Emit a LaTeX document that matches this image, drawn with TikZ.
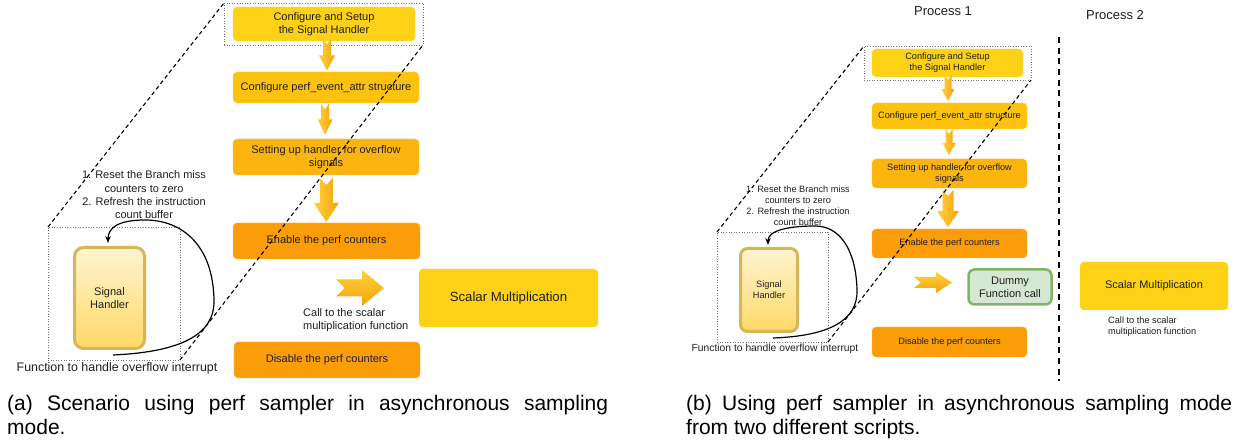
\documentclass[tikz,border=0pt]{standalone}
\usepackage{fontspec}
\setmainfont{Liberation Sans}
\usetikzlibrary{arrows.meta,calc}
\definecolor{cYa}{HTML}{FCD116}
\definecolor{cYb}{HTML}{FDC20E}
\definecolor{cYc}{HTML}{FCB50E}
\definecolor{cOr}{HTML}{FA9D08}
\definecolor{arrL}{HTML}{FFD23F}
\definecolor{arrD}{HTML}{F6A308}
\definecolor{shTop}{HTML}{FFF4D2}
\definecolor{shBot}{HTML}{FFD966}
\definecolor{shBd}{HTML}{D6B656}
\definecolor{dGr}{HTML}{D5E8D4}
\definecolor{dGrB}{HTML}{82B366}
\definecolor{txt}{HTML}{1F1F1F}
\newcommand\fsA{\fontsize{11}{13.3}\selectfont}
\newcommand\fsAL{\fontsize{12.4}{14}\selectfont}
\newcommand\fsAS{\fontsize{13.2}{15}\selectfont}
\newcommand\fsB{\fontsize{9.2}{11}\selectfont}
\newcommand\fsBL{\fontsize{10.3}{12}\selectfont}
\newcommand\fsBM{\fontsize{11}{13}\selectfont}
\newcommand\fsP{\fontsize{13}{15}\selectfont}
\newcommand\fsCap{\fontsize{21}{24.5}\selectfont}
\tikzset{
  box/.style={rounded corners=4pt, inner sep=1pt, outer sep=0pt, align=center, text=txt},
  dotbox/.style={draw=black!55, dotted, line width=0.6pt, inner sep=0pt, outer sep=0pt},
  diag/.style={dash pattern=on 4pt off 3pt, line width=1.1pt, black},
  curvearr/.style={line width=1.2pt, black, -{Stealth[length=7pt,width=5.5pt]}},
  lbl/.style={align=center, text=txt, inner sep=0pt},
  lbll/.style={align=left, text=txt, inner sep=0pt},
  sepline/.style={line width=2.3pt, dash pattern=on 6pt off 4.7pt, black},
  handler/.style={rounded corners=9pt, top color=shTop, bottom color=shBot, draw=shBd, line width=3pt, align=center, text=txt, inner sep=0pt},
  dummy/.style={rounded corners=6pt, fill=dGr, draw=dGrB, line width=2.5pt, align=center, text=txt, inner sep=0pt},
  pics/darrow/.style args={#1/#2/#3/#4/#5}{code={%
    \shade[left color=arrL, right color=arrD] (-#2/2,-#1/2) -- (0,-#1/2+#5) -- (#2/2,-#1/2) -- (#2/2,#1/2-#4) -- (#3/2,#1/2-#4) -- (0,#1/2) -- (-#3/2,#1/2-#4) -- (-#2/2,#1/2-#4) -- cycle;
  }},
  pics/rarrow/.style args={#1/#2/#3/#4/#5}{code={%
    \shade[top color=arrL, bottom color=arrD] (-#1/2,-#2/2) -- (-#1/2+#5,0) -- (-#1/2,#2/2) -- (#1/2-#4,#2/2) -- (#1/2-#4,#3/2) -- (#1/2,0) -- (#1/2-#4,-#3/2) -- (#1/2-#4,-#2/2) -- cycle;
  }},
}
\begin{document}
\begin{tikzpicture}[x=1pt,y=-1pt]
\useasboundingbox (0,0) rectangle (1245,443);
\fill[white] (0,0) rectangle (1245,443);

% ---------------- Panel (a) ----------------
\node[dotbox, minimum width=199pt, minimum height=42pt] (aTop) at (323.5,24) {};
\node[dotbox, minimum width=132pt, minimum height=133pt] (aBot) at (114,293.5) {};

\node[box, fill=cYa, draw=cYa!70!white, minimum width=182pt, minimum height=34pt, font=\fsA] (a1) at (324,24) {Configure and Setup\\the Signal Handler};
\node[box, fill=cYb, draw=cYb!70!white, minimum width=186pt, minimum height=31pt, font=\fsA] (a2) at (326,87.5) {Configure perf\_event\_attr structure};
\node[box, fill=cYc, draw=cYc!70!white, minimum width=186pt, minimum height=36pt, font=\fsA] (a3) at (326,157) {Setting up handler for overflow\\signals};
\node[box, fill=cOr, draw=cOr!70!white, minimum width=187pt, minimum height=36pt, font=\fsA] (a4) at (326.5,241) {Enable the perf counters};
\node[box, fill=cOr, draw=cOr!70!white, minimum width=186pt, minimum height=36pt, font=\fsA] (a5) at (327,360) {Disable the perf counters};
\node[box, fill=cYa, draw=cYa!70!white, minimum width=179pt, minimum height=58pt, font=\fsAS] (aS) at (508.5,298) {Scalar Multiplication};

\node[handler, minimum width=70pt, minimum height=101pt, font=\fsA] (aH) at (109.5,298) {Signal\\Handler};

\node[lbl, font=\fsAL] (aF) at (117,368) {Function to handle overflow interrupt};
\node[lbl, font=\fsA] (aL) at (144,195) {1. Reset the Branch miss\\counters to zero\\2. Refresh the instruction\\count buffer};
\node[lbll, font=\fsA, anchor=west] (aC) at (303,320.5) {Call to the scalar\\multiplication function};

\pic at ($(a1.south)!0.5!(a2.north)+(2,-2)$) {darrow=32/8/16/15/6};
\pic at ($(a2.south)!0.5!(a3.north)+(-1,-2)$) {darrow=31/8/15/15/6};
\pic at ($(a3.south)!0.5!(a4.north)+(0,1)$) {darrow=44/13/25/19/7};
\pic at (360,288) {rarrow=48/17/36/22/9};

\coordinate (aCs) at (113,355);
\coordinate (aCe) at (108,243);
\draw[curvearr] (aCs) .. controls (180,352) and (215,335) .. (214,300) .. controls (213,245) and (182,220) .. (145,220) .. controls (118,220) and (108,228) .. (aCe);

\draw[diag] (aBot.north west) -- (aTop.north west);
\draw[diag] (aBot.south east) -- (aTop.south east);

% ---------------- Panel (b) ----------------
\node[lbl, font=\fsP] (p1) at (943,11) {Process 1};
\node[lbl, font=\fsP] (p2) at (1115,15) {Process 2};
\coordinate (sepT) at (1059,37);
\coordinate (sepB) at (1059,381);
\draw[sepline] (sepT) -- (sepB);

\node[dotbox, minimum width=167pt, minimum height=34pt] (bTop) at (947.5,63) {};
\node[dotbox, minimum width=111pt, minimum height=110pt] (bBot) at (772.5,287) {};

\node[box, fill=cYa, draw=cYa!70!white, minimum width=151pt, minimum height=28pt, font=\fsB] (b1) at (947.5,63) {Configure and Setup\\the Signal Handler};
\node[box, fill=cYb, draw=cYb!70!white, minimum width=155pt, minimum height=26pt, font=\fsB] (b2) at (949.5,116) {Configure perf\_event\_attr structure};
\node[box, fill=cYc, draw=cYc!70!white, minimum width=155pt, minimum height=29pt, font=\fsB] (b3) at (949.5,173.5) {Setting up handler for overflow\\signals};
\node[box, fill=cOr, draw=cOr!70!white, minimum width=155pt, minimum height=29pt, font=\fsB] (b4) at (949.5,243.5) {Enable the perf counters};
\node[box, fill=cOr, draw=cOr!70!white, minimum width=155pt, minimum height=30pt, font=\fsB] (b5) at (949.5,342) {Disable the perf counters};
\node[dummy, minimum width=83pt, minimum height=35pt, font=\fsBM] (bD) at (1010,287) {Dummy\\Function call};
\node[box, fill=cYa, draw=cYa!70!white, minimum width=148pt, minimum height=48pt, font=\fsBM] (bS) at (1154,286) {Scalar Multiplication};

\node[handler, minimum width=57pt, minimum height=83pt, font=\fsB, rounded corners=7pt] (bH) at (769,290) {Signal\\Handler};

\node[lbl, font=\fsBL] (bF) at (775,349) {Function to handle overflow interrupt};
\node[lbl, font=\fsB] (bL) at (798,205.5) {1. Reset the Branch miss\\counters to zero\\2. Refresh the instruction\\count buffer};
\node[lbll, font=\fsB, anchor=west] (bC) at (1108,326.5) {Call to the scalar\\multiplication function};

\pic at ($(b1.south)!0.5!(b2.north)+(-0.5,-2)$) {darrow=26/7/13/12/5};
\pic at ($(b2.south)!0.5!(b3.north)+(-0.5,-2)$) {darrow=26/7/13/12/5};
\pic at ($(b3.south)!0.5!(b4.north)+(-1.5,0)$) {darrow=37/11/22/16/6};
\pic at (933,282.5) {rarrow=38/11/21/16/7};

\coordinate (bCs) at (773,338);
\coordinate (bCe) at (768,245);
\draw[curvearr] (bCs) .. controls (830,336) and (858,320) .. (857,290) .. controls (856,250) and (840,226) .. (815,226) .. controls (790,226) and (768,230) .. (bCe);

\draw[diag] (bBot.north west) -- (bTop.north west);
\draw[diag] (bBot.south east) -- (bTop.south east);

% ---------------- Captions ----------------
\node[anchor=base west, inner sep=0pt, font=\fsCap] (capA1) at (7,410) {\makebox[601pt][s]{(a) Scenario using perf sampler in asynchronous sampling}};
\node[anchor=base west, inner sep=0pt, font=\fsCap] (capA2) at (7,434.5) {mode.};
\node[anchor=base west, inner sep=0pt, font=\fsCap] (capB1) at (686,410) {\makebox[546pt][s]{(b) Using perf sampler in asynchronous sampling mode}};
\node[anchor=base west, inner sep=0pt, font=\fsCap] (capB2) at (686,434.5) {from two different scripts.};
\end{tikzpicture}
\end{document}
